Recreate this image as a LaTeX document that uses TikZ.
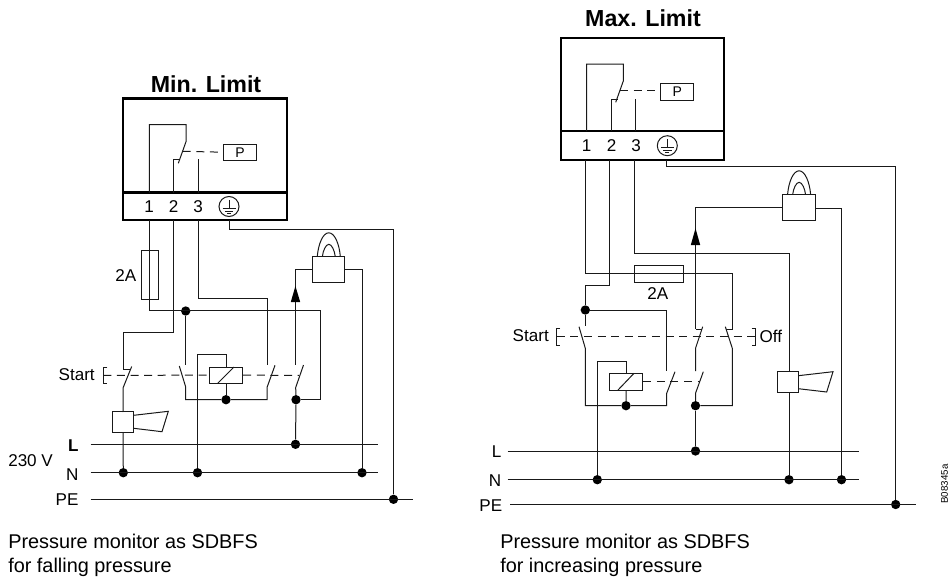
\documentclass[tikz,border=0pt]{standalone}
\usepackage{fontspec}
\setmainfont{Liberation Sans}
\tikzset{
  x=0.75pt,y=-0.75pt,
  wire/.style={line width=0.75pt,draw=black!90,line join=miter},
  boxframe/.style={line width=1.7pt,draw=black},
  dashwire/.style={wire,dash pattern=on 6pt off 4.2pt},
  compbox/.style={wire,draw,fill=white,inner sep=0pt},
  jn/.style={circle,fill=black,inner sep=0pt,minimum size=7pt},
  txt/.style={inner sep=0pt,font=\fontsize{12.8pt}{14pt}\selectfont},
  captxt/.style={inner sep=0pt,anchor=west,font=\fontsize{14.9pt}{17pt}\selectfont},
  ttl/.style={inner sep=0pt,font=\fontsize{17.4pt}{20pt}\selectfont\bfseries},
  earthsym/.pic={
    \draw[wire] (0,0) circle[radius=10];
    \draw[wire] (0,-6.5) -- (0,2);
    \draw[wire] (-6.5,2) -- (6.5,2) (-4.2,4.6) -- (4.2,4.6) (-2,7) -- (2,7);
  },
  lampsym/.pic={
    \draw[wire] (-11.5,0) .. controls (-10.5,-12) and (-6,-23.5) .. (0,-23.5) .. controls (6,-23.5) and (10.5,-12) .. (11.5,0);
    \draw[wire] (-6.4,0) .. controls (-5.8,-5.5) and (-3,-12) .. (0,-12) .. controls (3,-12) and (5.8,-5.5) .. (6.4,0);
  }
}
\begin{document}
\begin{tikzpicture}
\useasboundingbox (0,0) rectangle (948,578);
% ===== LEFT: Min. Limit =====
\node[ttl] (titleL) at (206,84) {Min. Limit};
\coordinate (LboxTL) at (123,98.5);
\coordinate (LboxBR) at (287,220);
\coordinate (LdivL) at (123,192.5);
\coordinate (LdivR) at (287,192.5);
\draw[boxframe] (LboxTL) rectangle (LboxBR);
\draw[boxframe] (LdivL) -- (LdivR);
\node[txt] (Lt1) at (149,206.5) {1};
\node[txt] (Lt2) at (173.5,206.5) {2};
\node[txt] (Lt3) at (198,206.5) {3};
\pic at (229,206.5) {earthsym};
% internal contacts
\node[compbox,minimum width=33.4*0.75pt,minimum height=16.3*0.75pt,font=\fontsize{10.5pt}{12pt}\selectfont] (LP) at (240,152.2) {P};
\draw[wire] (149.3,192.5) -- (149.3,124.7) -- (186,124.7) -- (186,141.7) -- (178.3,163.3);
\draw[wire] (173.7,192.5) -- (173.7,159.3) -- (180,159.3);
\draw[wire] (198.3,192.5) -- (198.3,159.3);
\draw[dashwire] (182.7,151.3) -- (LP.west);
% lower dots
\node[jn] (Ld1) at (185.7,311) {};
\node[jn] (Ld2) at (226,399.7) {};
\node[jn] (Ld3) at (296,399.7) {};
\node[jn] (LdL) at (295.5,444.3) {};
\node[jn] (LdN1) at (123.3,472.7) {};
\node[jn] (LdN2) at (197.5,472.7) {};
\node[jn] (LdN3) at (362,472.7) {};
\node[jn] (LdPE) at (393.5,499.3) {};
% fuse
\draw[wire] (141.7,250) rectangle (158.3,299);
\node[txt,anchor=east] (L2A) at (136.5,275.5) {2A};
% wires
\draw[wire] (149.3,220) -- (149.3,310.9) -- (320,310.9) -- (320,399.7) -- (Ld3);
\draw[wire] (173.7,220) -- (173.7,332.3) -- (123.2,332.3) -- (123.2,369);
\draw[wire] (198.3,220) -- (198.3,298.7) -- (267,298.7) -- (267,365);
\draw[wire] (Ld1) -- (185.7,365);
% switches
\draw[wire] (131.7,366.5) -- (123.2,387.5) -- (123.2,412) ;
\draw[wire] (123.2,369) -- (130.5,369);
\draw[wire] (179.3,366) -- (185.7,387) -- (185.7,399.7) -- (Ld2) -- (267,399.7) -- (267,387.5) -- (275,365.3);
\draw[wire] (303.5,365) -- (295.7,387.5) -- (Ld3);
% coil
\node[compbox,minimum width=33.4*0.75pt,minimum height=16.3*0.75pt] (Lcoil) at (226,375.2) {};
\draw[wire] (217.7,383.3) -- (234,367);
\draw[wire] (Lcoil.north) -- (226,354.7) -- (197.5,354.7) -- (LdN2);
\draw[wire] (Lcoil.south) -- (Ld2);
% mechanical link
\draw[wire] (107.3,367.3) -- (103.3,367.3) -- (103.3,383.3) -- (107.3,383.3);
\draw[dashwire] (103.3,375.3) -- (Lcoil.west);
\draw[dashwire] (Lcoil.east) -- (299,375.3);
\node[txt,anchor=east] (Lstart) at (95,375) {Start};
% lamp
\node[compbox,minimum width=32.3*0.75pt,minimum height=25.7*0.75pt] (Llamp) at (328.8,269.2) {};
\pic at (328.8,256.3) {lampsym};
\draw[wire] (Llamp.east) -- (362,269.2) -- (LdN3);
\draw[wire] (Llamp.west) -- (295.4,269.2) -- (295.4,365);
\draw[fill=black,draw=none] (295.4,286) -- (300.2,302) -- (290.8,302) -- cycle;
\draw[wire] (Ld3) -- (LdL);
% horn
\node[compbox,minimum width=21.4*0.75pt,minimum height=21*0.75pt] (Lhorn) at (123,422.2) {};
\draw[wire] (133.7,415.3) -- (168.3,411.3) -- (162,431.7) -- (133.7,428.3);
\draw[wire] (123.2,412) -- (Lhorn.north);
\draw[wire] (Lhorn.south) -- (LdN1);
% bus
\coordinate (LbLa) at (90.7,444.3); \coordinate (LbLb) at (378,444.3);
\coordinate (LbNa) at (90.7,472.7); \coordinate (LbNb) at (378,472.7);
\coordinate (LbPa) at (90.7,499.3); \coordinate (LbPb) at (413,499.3);
\draw[wire] (LbLa) -- (LbLb);
\draw[wire] (LbNa) -- (LbNb);
\draw[wire] (LbPa) -- (LbPb);
\node[txt,anchor=east,font=\fontsize{12.8pt}{14pt}\selectfont\bfseries] (LlabL) at (78.7,446) {L};
\node[txt,anchor=east] (LlabN) at (78.7,475) {N};
\node[txt,anchor=east] (LlabP) at (78.7,500) {PE};
\node[txt,anchor=west] (Lv) at (8,461) {230 V};
% earth
\draw[wire] (229,220) -- (229,229) -- (393.5,229) -- (LdPE);
\node[captxt] (Lc1) at (8,541) {Pressure monitor as SDBFS};
\node[captxt] (Lc2) at (8,567) {for falling pressure};
% ===== RIGHT: Max. Limit =====
\node[ttl] (titleR) at (643,18) {Max. Limit};
\coordinate (RboxTL) at (560.7,37.7);
\coordinate (RboxBR) at (724.3,160);
\coordinate (RdivL) at (560.7,131);
\coordinate (RdivR) at (724.3,131);
\draw[boxframe] (RboxTL) rectangle (RboxBR);
\draw[boxframe] (RdivL) -- (RdivR);
\node[txt] (Rt1) at (586.5,145.7) {1};
\node[txt] (Rt2) at (611.5,145.7) {2};
\node[txt] (Rt3) at (636,145.7) {3};
\pic at (667.3,145.7) {earthsym};
\node[compbox,minimum width=33*0.75pt,minimum height=16.7*0.75pt,font=\fontsize{10.5pt}{12pt}\selectfont] (RP) at (677.2,91.7) {P};
\draw[wire] (586.7,131) -- (586.7,64) -- (623.3,64) -- (623.3,81) -- (615.7,102.3);
\draw[wire] (611,131) -- (611,99) -- (618,99);
\draw[wire] (635.7,131) -- (635.7,99);
\draw[dashwire] (620,90.7) -- (RP.west |- 0,90.7);
% dots
\node[jn] (Rd1) at (585.3,310) {};
\node[jn] (Rd2) at (626,405.7) {};
\node[jn] (Rd3) at (695.5,405.7) {};
\node[jn] (RdL) at (695.5,451) {};
\node[jn] (RdN1) at (597.3,479.7) {};
\node[jn] (RdN2) at (789,479.7) {};
\node[jn] (RdN3) at (841.5,479.7) {};
\node[jn] (RdPE) at (895.7,504.5) {};
% fuse
\draw[wire] (634.3,265.7) rectangle (683.3,282);
\node[txt] (R2A) at (657.7,294) {2A};
% wires
\draw[wire] (585,160) -- (585,273.7) -- (732.3,273.7) -- (732.3,330);
\draw[wire] (609.7,160) -- (609.7,285.7) -- (585.3,285.7) -- (Rd1) -- (585.3,326);
\draw[wire] (634.7,160) -- (634.7,253.3) -- (789,253.3) -- (789,371.7);
\draw[wire] (Rd1) -- (666.7,310) -- (666.7,371);
% switches
\draw[wire] (579,326.7) -- (585.3,348.3) -- (585.3,405.7) -- (Rd2) -- (666.7,405.7) -- (666.7,393.3) -- (675,371.7);
\draw[wire] (695.5,329.3) -- (702,329.3);
\draw[wire] (702.7,326.7) -- (695.5,348.3) -- (695.5,371);
\draw[wire] (703.3,371.7) -- (695.5,393.3) -- (Rd3);
\draw[wire] (Rd3) -- (732.3,405.7) -- (732.3,348.3) -- (725.3,326.7);
\draw[wire] (725.5,329.3) -- (732.3,329.3);
% coil
\node[compbox,minimum width=33*0.75pt,minimum height=16.7*0.75pt] (Rcoil) at (626.2,381.7) {};
\draw[wire] (618,390) -- (634,373.3);
\draw[wire] (Rcoil.north) -- (626.2,361) -- (597.3,361) -- (RdN1);
\draw[wire] (Rcoil.south) -- (Rd2);
\draw[dashwire] (Rcoil.east) -- (700,381.7);
% mechanical link
\draw[wire] (560,328.3) -- (556.7,328.3) -- (556.7,345) -- (560,345);
\draw[wire] (751.7,328.3) -- (755,328.3) -- (755,345) -- (751.7,345);
\draw[dashwire] (556.7,336.7) -- (755,336.7);
\node[txt,anchor=east] (Rstart) at (549,336) {Start};
\node[txt,anchor=west] (Roff) at (759.3,336) {Off};
% lamp
\node[compbox,minimum width=32.3*0.75pt,minimum height=25.7*0.75pt] (Rlamp) at (799.1,207.2) {};
\pic at (799.1,194.3) {lampsym};
\draw[wire] (Rlamp.east |- 0,208) -- (841.5,208) -- (RdN3);
\draw[wire] (Rlamp.west) -- (695.5,207.2) -- (695.5,329.3);
\draw[fill=black,draw=none] (695.5,228.3) -- (700.2,245) -- (690.8,245) -- cycle;
\draw[wire] (Rd3) -- (RdL);
% horn
\node[compbox,minimum width=20.6*0.75pt,minimum height=20.6*0.75pt] (Rhorn) at (788,382) {};
\draw[wire] (798.3,375.7) -- (833,371.7) -- (826.7,392) -- (798.3,388.7);
\draw[wire] (789,392.3) -- (RdN2);
% bus
\coordinate (RbLa) at (507.7,451); \coordinate (RbLb) at (859,451);
\coordinate (RbNa) at (507.7,479.7); \coordinate (RbNb) at (859,479.7);
\coordinate (RbPa) at (510,504.5); \coordinate (RbPb) at (915.7,504.5);
\draw[wire] (RbLa) -- (RbLb);
\draw[wire] (RbNa) -- (RbNb);
\draw[wire] (RbPa) -- (RbPb);
\node[txt,anchor=east] (RlabL) at (501.5,452) {L};
\node[txt,anchor=east] (RlabN) at (501.5,481) {N};
\node[txt,anchor=east] (RlabP) at (502.5,505.5) {PE};
% earth
\draw[wire] (666.7,160) -- (666.7,166.7) -- (895.7,166.7) -- (RdPE);
\node[captxt] (Rc1) at (500,541) {Pressure monitor as SDBFS};
\node[captxt] (Rc2) at (500,567) {for increasing pressure};
\node[inner sep=0pt,rotate=90,font=\fontsize{7.3pt}{8pt}\selectfont] (code) at (944.5,484) {B08345a};
\end{tikzpicture}
\end{document}
